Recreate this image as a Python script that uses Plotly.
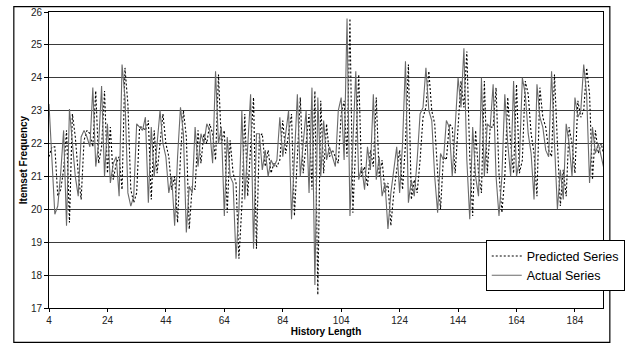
import plotly.graph_objects as go

history_length = list(range(4, 195))

actual_series = [
    23.2, 21.3, 19.85, 20.1, 21.1, 22.4, 19.5, 23.05, 22.0, 21.0,   # 4-13
    20.4, 22.2, 22.4, 22.2, 21.9, 23.7, 21.3, 22.0, 23.75, 21.0,    # 14-23
    22.6, 20.8, 21.4, 21.6, 20.4, 24.4, 23.4, 20.5, 20.1, 20.4,     # 24-33
    22.6, 22.5, 22.4, 22.8, 20.2, 22.5, 21.0, 22.0, 23.0, 22.0,     # 34-43
    21.6, 20.5, 21.0, 19.5, 21.6, 23.1, 22.3, 19.3, 20.7, 20.5,     # 44-53
    22.5, 21.3, 22.3, 22.0, 22.6, 22.4, 21.4, 24.2, 22.0, 22.5,     # 54-63
    19.8, 22.2, 21.0, 20.8, 18.5, 20.0, 23.0, 20.3, 22.0, 23.5,     # 64-73
    18.8, 22.3, 22.3, 21.2, 21.8, 21.0, 21.5, 21.3, 21.5, 22.8,     # 74-83
    21.6, 22.4, 23.0, 19.7, 21.8, 23.5, 21.0, 22.0, 23.0, 20.5,     # 84-93
    23.7, 17.7, 23.4, 21.0, 22.7, 21.5, 21.9, 21.6, 21.3, 23.0,     # 94-103
    23.4, 21.5, 25.8, 19.8, 22.0, 24.2, 20.9, 21.3, 20.6, 21.9,     # 104-113
    21.2, 23.5, 20.9, 21.6, 20.4, 20.8, 19.4, 20.5, 21.2, 21.9,     # 114-123
    20.5, 22.0, 24.5, 20.2, 20.9, 20.4, 21.5, 22.9, 23.1, 24.3,     # 124-133
    23.0, 22.7, 21.0, 19.9, 21.7, 21.5, 22.7, 22.5, 21.0, 22.5,     # 134-143
    24.0, 23.1, 24.9, 21.5, 19.7, 22.5, 21.0, 20.4, 24.0, 21.0,     # 144-153
    22.6, 22.5, 23.8, 21.0, 19.8, 21.0, 23.5, 22.0, 21.0, 23.9,     # 154-163
    21.0, 21.5, 24.0, 23.5, 22.3, 21.7, 20.3, 23.8, 22.8, 22.5,     # 164-173
    21.8, 21.6, 24.2, 22.0, 20.0, 21.2, 20.3, 22.6, 22.0, 21.0,     # 174-183
    23.4, 22.8, 23.0, 24.4, 23.5, 20.8, 22.5, 21.7, 22.0, 21.6,     # 184-193
    21.2,                                                            # 194
]

predicted_series = [
    21.6, 21.9, 21.9, 20.4, 20.6, 21.2, 22.4, 19.6, 22.9, 22.2,     # 4-13
    21.1, 20.3, 22.1, 22.4, 22.3, 21.9, 23.6, 21.4, 21.9, 23.6,     # 14-23
    21.1, 22.5, 20.9, 21.4, 21.6, 20.6, 24.3, 23.2, 20.6, 20.2,     # 24-33
    20.5, 22.5, 22.5, 22.4, 22.7, 20.3, 22.4, 21.1, 22.0, 22.9,     # 34-43
    22.0, 21.6, 20.6, 21.0, 19.6, 21.6, 23.0, 22.2, 19.4, 20.7,     # 44-53
    20.6, 22.4, 21.4, 22.3, 22.0, 22.6, 22.3, 21.5, 24.1, 22.0,     # 54-63
    22.4, 19.9, 22.1, 21.1, 20.8, 18.5, 20.1, 22.9, 20.4, 22.0,     # 64-73
    23.4, 18.8, 22.2, 22.3, 21.3, 21.8, 21.1, 21.4, 21.3, 21.5,     # 74-83
    22.7, 21.7, 22.3, 22.9, 19.8, 21.8, 23.4, 21.1, 22.0, 22.9,     # 84-93
    20.6, 23.6, 17.4, 23.3, 21.1, 22.6, 21.6, 21.8, 21.6, 21.4,     # 94-103
    22.9, 23.3, 21.6, 25.8, 19.9, 22.0, 24.1, 21.0, 21.3, 20.7,     # 104-113
    21.8, 21.3, 23.4, 21.0, 21.5, 20.5, 20.8, 19.5, 20.5, 21.2,     # 114-123
    21.8, 20.6, 22.0, 24.4, 20.3, 20.9, 20.5, 21.5, 22.8, 23.1,     # 124-133
    24.2, 23.0, 22.6, 21.1, 20.0, 21.6, 21.5, 22.6, 22.5, 21.1,     # 134-143
    22.5, 23.9, 23.1, 24.8, 21.6, 19.8, 22.4, 21.1, 20.5, 23.9,     # 144-153
    21.1, 22.5, 22.5, 23.7, 21.1, 19.9, 21.0, 23.4, 22.0, 21.1,     # 154-163
    23.8, 21.1, 21.5, 23.9, 23.5, 22.3, 21.7, 20.4, 23.7, 22.8,     # 164-173
    22.5, 21.8, 21.6, 24.1, 22.0, 20.1, 21.2, 20.4, 22.5, 22.0,     # 174-183
    21.1, 23.3, 22.8, 23.0, 24.3, 23.5, 20.9, 22.4, 21.7, 22.0,     # 184-193
    21.6,                                                            # 194
]

x_tick_values = [4, 24, 44, 64, 84, 104, 124, 144, 164, 184]
y_tick_values = [17, 18, 19, 20, 21, 22, 23, 24, 25, 26]

FONT = "Liberation Sans, Arial, sans-serif"

fig = go.Figure()
fig.add_trace(go.Scatter(
    x=history_length, y=predicted_series, mode="lines", name="Predicted Series",
    line=dict(color="#000000", width=1.1, dash="2px,2px"),
))
fig.add_trace(go.Scatter(
    x=history_length, y=actual_series, mode="lines", name="Actual Series",
    line=dict(color="#6a6a6a", width=1.1),
))

W, H = 631, 350
L, R, T, B = 49, 15, 6, 42
pw, ph = W - L - R, H - T - B

def px_to_paper_x(px):
    return (px - L) / pw

def px_to_paper_y(py):
    return (H - B - py) / ph

fig.update_layout(
    width=W, height=H,
    margin=dict(l=L, r=R, t=T, b=B, pad=0),
    paper_bgcolor="white", plot_bgcolor="white",
    font=dict(family=FONT, color="black", size=10),
    showlegend=True,
    legend=dict(
        x=px_to_paper_x(496), y=px_to_paper_y(239), xanchor="left", yanchor="top",
        bgcolor="white", bordercolor="black", borderwidth=1,
        font=dict(size=12.5, family=FONT), tracegroupgap=0,
    ),
    xaxis=dict(
        range=[4, 193.6], tickmode="array", tickvals=x_tick_values,
        ticks="outside", ticklen=3, tickcolor="black", showgrid=False,
        showline=True, linecolor="black", linewidth=1, mirror=True,
        zeroline=False, tickfont=dict(size=10, color="#222"),
        title=dict(text="<b>History Length</b>", font=dict(size=10), standoff=2),
    ),
    yaxis=dict(
        range=[17, 26], tickmode="array", tickvals=y_tick_values,
        ticks="outside", ticklen=4, tickcolor="black",
        showgrid=True, gridcolor="#3a3a3a", gridwidth=1,
        showline=True, linecolor="black", linewidth=1, mirror=True,
        zeroline=False, tickfont=dict(size=10, color="#222"),
        title=dict(text="<b>Itemset Frequency</b>", font=dict(size=10), standoff=1),
    ),
    shapes=[dict(
        type="rect", xref="paper", yref="paper",
        x0=px_to_paper_x(13), x1=px_to_paper_x(623),
        y0=px_to_paper_y(343), y1=px_to_paper_y(0.5),
        line=dict(color="black", width=1.2), fillcolor="rgba(0,0,0,0)", layer="below",
    )],
)

fig.write_html("out.html")
